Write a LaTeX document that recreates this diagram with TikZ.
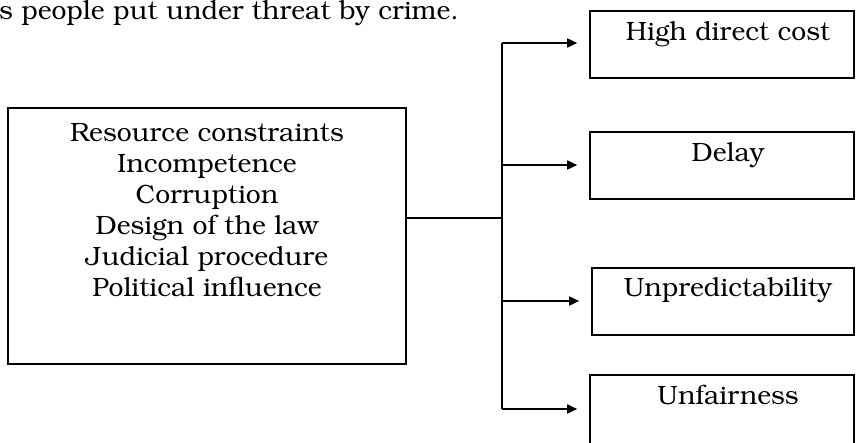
\documentclass[tikz,border=0pt]{standalone}
\usepackage[T1]{fontenc}
\usepackage{bookman}
\usetikzlibrary{arrows.meta}
\begin{document}
\begin{tikzpicture}[x=1pt,y=-1pt,
  box/.style={draw,line width=1.6pt,minimum width=#1,inner sep=0pt},
  lbl/.style={font=\fontsize{26.5}{31}\selectfont,align=center,inner sep=0pt},
  link/.style={line width=1.6pt},
  arr/.style={line width=1.6pt,-{Triangle[length=10pt,width=9pt]},shorten >=12pt}]
\useasboundingbox (0,0) rectangle (856,442);
\node[lbl,anchor=base west] (top) at (-1,19.5) {s people put under threat by crime.};
% left box
\node[box=398pt,minimum height=256pt] (L) at (207,236) {};
\node[lbl] (Ltxt) at (207,210) {Resource constraints\\Incompetence\\Corruption\\Design of the law\\Judicial procedure\\Political influence};
% right boxes
\node[box=264pt,minimum height=67pt] (B1) at (722,44.5) {};
\node[lbl,anchor=base] (T1) at (728,40) {High direct cost};
\node[box=264pt,minimum height=67pt] (B2) at (722,165.5) {};
\node[lbl,anchor=base] (T2) at (728,161) {Delay};
\node[box=262pt,minimum height=67pt] (B3) at (723,301.5) {};
\node[lbl,anchor=base] (T3) at (728,296) {Unpredictability};
\node[box=264pt,minimum height=80pt] (B4) at (722,415) {};
\node[lbl,anchor=base] (T4) at (728,404) {Unfairness};
% connectors
\coordinate (j) at (502,218);
\coordinate (jt) at (502,43);
\coordinate (j2) at (502,165);
\coordinate (j3) at (502,301);
\coordinate (jb) at (502,409);
\draw[link] (L.east |- j) -- (j);
\draw[link] (jt) -- (jb);
\draw[arr] (jt) -- (B1.west |- jt);
\draw[arr] (j2) -- (B2.west |- j2);
\draw[arr] (j3) -- (B3.west |- j3);
\draw[arr] (jb) -- (B4.west |- jb);
\end{tikzpicture}
\end{document}
